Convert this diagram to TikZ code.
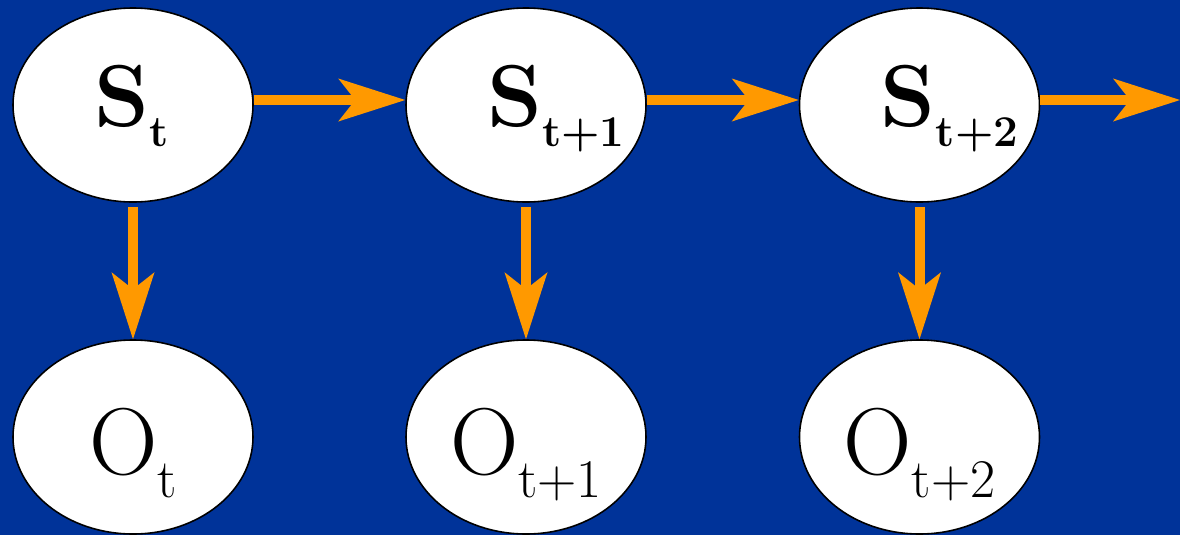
\documentclass[tikz,border=0pt]{standalone}
\usepackage{tikz}
\usetikzlibrary{arrows.meta,shapes.geometric}
\definecolor{slideblue}{RGB}{0,51,153}
\definecolor{arroworange}{RGB}{255,153,0}
\newcommand{\stlab}[1]{\textbf{S\raisebox{-11pt}{\fontsize{25}{25}\selectfont #1}}}
\newcommand{\oblab}[1]{O\raisebox{-13pt}{\fontsize{31}{31}\selectfont #1}}

\begin{document}
\begin{tikzpicture}[
  hidden/.style={draw, ellipse, fill=white, line width=0.9pt, inner sep=0pt, minimum width=4.8cm, minimum height=3.88cm},
  state/.style={hidden, align=left, text width=44pt, text height=25pt, text depth=0pt, font=\fontsize{50}{50}\selectfont},
  obs/.style={hidden, text height=43pt, text depth=0pt, font=\fontsize{54}{54}\selectfont},
  arrow/.style={-{Stealth[length=1.34cm, width=0.86cm, inset=0.34cm, line width=0pt]}, line width=0.2cm, arroworange},
  harrow/.style={arrow, transform canvas={yshift=0.1cm}},
  varrow/.style={arrow, shorten <=0.08cm}
]

\fill[slideblue] (0,0) rectangle (23.6,-10.7);

\node[state] (st) at (2.66,-2.1) {\stlab{t}};
\node[state] (st1) at (10.52,-2.1) {\stlab{t+1}};
\node[state] (st2) at (18.39,-2.1) {\stlab{t+2}};

\node[obs] (ot) at (2.66,-8.74) {\oblab{t}};
\node[obs] (ot1) at (10.52,-8.74) {\oblab{t+1}};
\node[obs] (ot2) at (18.39,-8.74) {\oblab{t+2}};

\coordinate (next) at (23.6,-2.1);

\draw[harrow] (st) -- (st1);
\draw[harrow] (st1) -- (st2);
\draw[harrow] (st2) -- (next);

\draw[varrow] (st) -- (ot);
\draw[varrow] (st1) -- (ot1);
\draw[varrow] (st2) -- (ot2);

\end{tikzpicture}
\end{document}
